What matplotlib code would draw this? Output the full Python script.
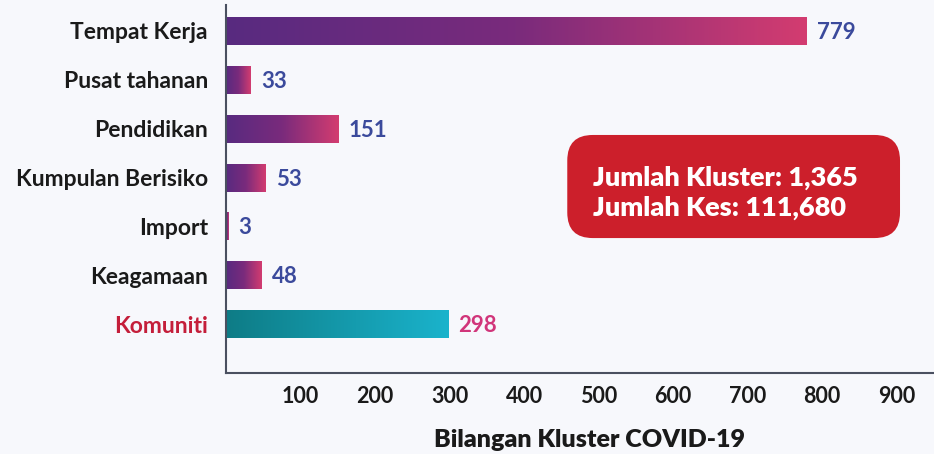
import numpy as np
import matplotlib
matplotlib.use("Agg")
import matplotlib.pyplot as plt
from matplotlib.colors import LinearSegmentedColormap
from matplotlib.patches import FancyBboxPatch

# data
categories = ["Tempat Kerja", "Pusat tahanan", "Pendidikan", "Kumpulan Berisiko",
              "Import", "Keagamaan", "Komuniti"]
values = [779, 33, 151, 53, 3, 48, 298]
xticks = [100, 200, 300, 400, 500, 600, 700, 800, 900]
summary_lines = ["Jumlah Kluster: 1,365", "Jumlah Kes: 111,680"]
xlabel = "Bilangan Kluster COVID-19"

bg = "#f7f8fc"
purple_pink = LinearSegmentedColormap.from_list("pp", ["#582a80", "#7a2b7c", "#d33c70"])
teal = LinearSegmentedColormap.from_list("tl", ["#0e7c86", "#1ab3cc"])

plt.rcParams["font.family"] = ["Lato", "DejaVu Sans"]

fig = plt.figure(figsize=(9.34, 4.54), dpi=100, facecolor=bg)
ax = fig.add_axes([0.242, 0.178, 0.758, 0.811], facecolor=bg)

n = len(categories)
ypos = np.arange(n)[::-1]
bar_h = 0.57
grad = np.linspace(0, 1, 256).reshape(1, -1)

for i, (cat, v) in enumerate(zip(categories, values)):
    y = ypos[i]
    cmap = teal if cat == "Komuniti" else purple_pink
    ax.imshow(grad, extent=[0, v, y - bar_h / 2, y + bar_h / 2], cmap=cmap,
              aspect="auto", interpolation="bilinear", zorder=2)
    col = "#d1357a" if cat == "Komuniti" else "#3b4a9c"
    ax.text(v + 14, y - 0.03, str(v), va="center", ha="left", fontsize=16,
            fontweight="bold", color=col)

ax.set_xlim(0, 950)
ax.set_ylim(-1.0, n - 1 + 0.53)
ax.set_yticks(ypos)
ax.set_yticklabels(categories, fontsize=16.5, fontweight="bold")
for lbl in ax.get_yticklabels():
    lbl.set_color("#c41e3a" if lbl.get_text() == "Komuniti" else "#1a1a1a")
ax.set_xticks(xticks)
ax.set_xticklabels([str(t) for t in xticks], fontsize=15.5, fontweight="bold", color="#1a1a1a")
ax.tick_params(axis="both", length=0)
ax.tick_params(axis="y", pad=13)
ax.tick_params(axis="x", pad=9)
fig.text(590 / 934, 1 - 440 / 454, xlabel, fontsize=18, fontweight="heavy",
         color="#1a1a1a", ha="center", va="center")

for s in ["top", "right"]:
    ax.spines[s].set_visible(False)
for s in ["left", "bottom"]:
    ax.spines[s].set_color("#4a5060")
    ax.spines[s].set_linewidth(1.5)

aspect = (0.758 * 934) / (0.811 * 454)
box = FancyBboxPatch((0.482, 0.367), 0.47, 0.28, boxstyle="round,pad=0,rounding_size=0.036",
                     transform=ax.transAxes, facecolor="#cc1f2b", edgecolor="none",
                     mutation_aspect=aspect, zorder=3)
ax.add_patch(box)
ax.text(0.518, 0.53, summary_lines[0], transform=ax.transAxes, fontsize=19.5,
        fontweight="heavy", color="white", va="center", ha="left", zorder=4)
ax.text(0.518, 0.448, summary_lines[1], transform=ax.transAxes, fontsize=19.5,
        fontweight="heavy", color="white", va="center", ha="left", zorder=4)

fig.savefig("out.png", dpi=100, facecolor=bg)
